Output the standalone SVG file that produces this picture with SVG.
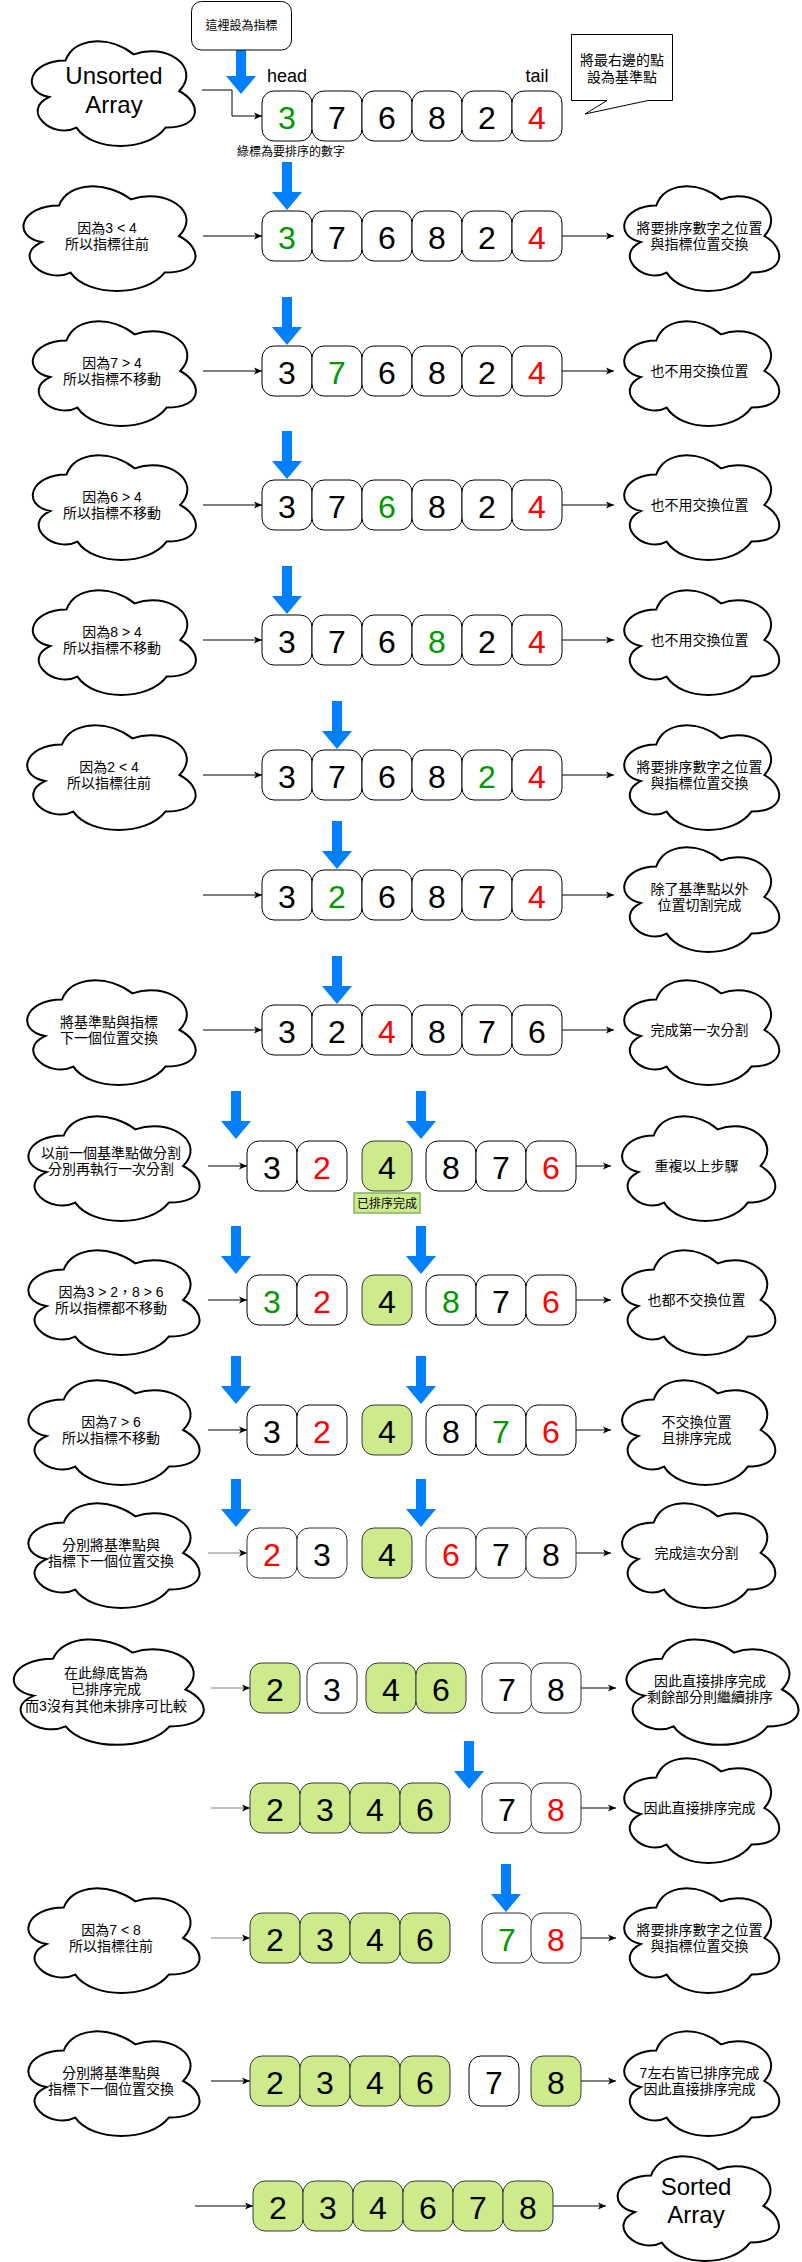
<svg xmlns="http://www.w3.org/2000/svg" xmlns:xlink="http://www.w3.org/1999/xlink" width="802" height="2262" viewBox="0 0 802 2262">
<style>
.bg{fill:#fff}
.box{fill:#fff;stroke:#000;stroke-width:1}
.box.gy{stroke:#333}
.gbox{fill:#cdeb8b;stroke:#36393d;stroke-width:1}
.d{font-family:"Liberation Sans",Arial,sans-serif;font-size:32px;text-anchor:middle;fill:#000}
.g{fill:#009900}
.r{fill:#ff0000}
.t{font-family:"Liberation Sans","Noto Sans CJK TC",sans-serif;font-size:14px;text-anchor:middle;fill:#000}
.s{font-size:12px}
.big{font-family:"Liberation Sans",Arial,sans-serif;font-size:24px;text-anchor:middle;fill:#000}
.hd{font-family:"Liberation Sans",Arial,sans-serif;font-size:18px;text-anchor:middle;fill:#000}
.cloud{fill:#fff;stroke:#000;stroke-width:2}
.conn{fill:none;stroke:#000;stroke-width:1;marker-end:url(#ah)}
.conn.gy{stroke:#808080;marker-end:url(#ahg)}
.blue{fill:#007fff}
</style>
<defs>
<path id="cloudp" d="M25,25 C5,25 0,50 16,55 C0,66 18,90 31,80 C40,100 70,100 80,80 C100,80 100,60 87.5,50 C100,30 80,10 62.5,20 C50,5 30,5 25,25 Z" vector-effect="non-scaling-stroke"/>
<path id="barrow" d="M-5,0 H5 V30 H15 L0,48 L-15,30 H-5 Z"/>
<marker id="ah" viewBox="0 0 10 10" refX="9" refY="5" markerWidth="10" markerHeight="10" markerUnits="userSpaceOnUse" orient="auto">
<path d="M1,1.5 L9,5 L1,8.5 L3,5 Z" fill="#000"/>
</marker>
<marker id="ahg" viewBox="0 0 10 10" refX="9" refY="5" markerWidth="10" markerHeight="10" markerUnits="userSpaceOnUse" orient="auto">
<path d="M1,1.5 L9,5 L1,8.5 L3,5 Z" fill="#000"/>
</marker>
</defs>
<rect class="bg" x="0" y="0" width="802" height="2262"/>

<g id="connectors">
<path class="conn" d="M202,90 H232 V116 H262"/>
<path class="conn" d="M203,236 H262"/><path class="conn" d="M562,236 H614"/>
<path class="conn" d="M203,371 H262"/><path class="conn" d="M562,371 H614"/>
<path class="conn" d="M203,505 H262"/><path class="conn" d="M562,505 H614"/>
<path class="conn" d="M203,640 H262"/><path class="conn" d="M562,640 H614"/>
<path class="conn" d="M203,775 H262"/><path class="conn" d="M562,775 H614"/>
<path class="conn" d="M203,895 H262"/><path class="conn" d="M562,895 H614"/>
<path class="conn" d="M203,1030 H262"/><path class="conn" d="M562,1030 H614"/>
<path class="conn" d="M208,1166 H247"/><path class="conn" d="M576,1166 H611"/>
<path class="conn" d="M208,1300 H247"/><path class="conn" d="M576,1300 H611"/>
<path class="conn" d="M208,1430 H247"/><path class="conn" d="M576,1430 H611"/>
<path class="conn gy" d="M208,1553 H247"/><path class="conn" d="M576,1553 H611"/>
<path class="conn gy" d="M211,1688 H250"/><path class="conn" d="M581,1688 H616"/>
<path class="conn gy" d="M211,1808 H250"/><path class="conn" d="M581,1808 H616"/>
<path class="conn gy" d="M211,1938 H250"/><path class="conn" d="M581,1938 H616"/>
<path class="conn" d="M211,2081 H250"/><path class="conn" d="M581,2081 H616"/>
<path class="conn" d="M195,2206 H253"/><path class="conn" d="M553,2206 H606"/>
</g>

<g id="pointers">
<path class="blue" d="M236,50 H246 V76 H256 L241,94 L226,76 H236 Z"/>
<use href="#barrow" class="blue" transform="translate(287,162)"/>
<use href="#barrow" class="blue" transform="translate(287,297)"/>
<use href="#barrow" class="blue" transform="translate(287,431)"/>
<use href="#barrow" class="blue" transform="translate(287,566)"/>
<use href="#barrow" class="blue" transform="translate(337,701)"/>
<use href="#barrow" class="blue" transform="translate(337,821)"/>
<use href="#barrow" class="blue" transform="translate(337,956)"/>
<use href="#barrow" class="blue" transform="translate(236,1091)"/>
<use href="#barrow" class="blue" transform="translate(421,1091)"/>
<use href="#barrow" class="blue" transform="translate(236,1226)"/>
<use href="#barrow" class="blue" transform="translate(421,1226)"/>
<use href="#barrow" class="blue" transform="translate(236,1356)"/>
<use href="#barrow" class="blue" transform="translate(421,1356)"/>
<use href="#barrow" class="blue" transform="translate(236,1479)"/>
<use href="#barrow" class="blue" transform="translate(421,1479)"/>
<use href="#barrow" class="blue" transform="translate(469,1741)"/>
<use href="#barrow" class="blue" transform="translate(506,1864)"/>
</g>

<g id="pointer-note">
<rect class="box" x="191.5" y="1.5" width="100" height="48.5" rx="10"/>
<text class="t s" x="241.5" y="30">這裡設為指標</text>
</g>

<g id="pivot-note">
<path class="box" d="M571.5,34.5 H672.5 V100.5 H648 L585,114 L607,100.5 H571.5 Z"/>
<text class="t" x="622" y="65">將最右邊的點</text>
<text class="t" x="622" y="82">設為基準點</text>
</g>

<g id="unsorted">
<use href="#cloudp" class="cloud" transform="translate(20,30) scale(1.82,1.22)"/>
<text class="big" x="114" y="84">Unsorted</text>
<text class="big" x="114" y="113">Array</text>
</g>
<text class="hd" x="287" y="82">head</text>
<text class="hd" x="537" y="82">tail</text>
<text class="t s g" x="291" y="156">綠標為要排序的數字</text>

<g id="row1">
<rect class="box" x="262" y="91" width="50" height="50" rx="12"/><text class="d g" x="287" y="129">3</text>
<rect class="box" x="312" y="91" width="50" height="50" rx="12"/><text class="d" x="337" y="129">7</text>
<rect class="box" x="362" y="91" width="50" height="50" rx="12"/><text class="d" x="387" y="129">6</text>
<rect class="box" x="412" y="91" width="50" height="50" rx="12"/><text class="d" x="437" y="129">8</text>
<rect class="box" x="462" y="91" width="50" height="50" rx="12"/><text class="d" x="487" y="129">2</text>
<rect class="box" x="512" y="91" width="50" height="50" rx="12"/><text class="d r" x="537" y="129">4</text>
</g>

<g id="row2">
<use href="#cloudp" class="cloud" transform="translate(11,175) scale(1.92,1.22)"/>
<text class="t" x="107" y="233">因為3 &lt; 4</text><text class="t" x="107" y="249">所以指標往前</text>
<rect class="box" x="262" y="211" width="50" height="50" rx="12"/><text class="d g" x="287" y="249">3</text>
<rect class="box" x="312" y="211" width="50" height="50" rx="12"/><text class="d" x="337" y="249">7</text>
<rect class="box" x="362" y="211" width="50" height="50" rx="12"/><text class="d" x="387" y="249">6</text>
<rect class="box" x="412" y="211" width="50" height="50" rx="12"/><text class="d" x="437" y="249">8</text>
<rect class="box" x="462" y="211" width="50" height="50" rx="12"/><text class="d" x="487" y="249">2</text>
<rect class="box" x="512" y="211" width="50" height="50" rx="12"/><text class="d r" x="537" y="249">4</text>
<use href="#cloudp" class="cloud" transform="translate(613,175) scale(1.73,1.22)"/>
<text class="t" x="699.5" y="233">將要排序數字之位置</text><text class="t" x="699.5" y="249">與指標位置交換</text>
</g>

<g id="row3">
<use href="#cloudp" class="cloud" transform="translate(21,310) scale(1.82,1.22)"/>
<text class="t" x="112" y="368">因為7 &gt; 4</text><text class="t" x="112" y="384">所以指標不移動</text>
<rect class="box" x="262" y="346" width="50" height="50" rx="12"/><text class="d" x="287" y="384">3</text>
<rect class="box" x="312" y="346" width="50" height="50" rx="12"/><text class="d g" x="337" y="384">7</text>
<rect class="box" x="362" y="346" width="50" height="50" rx="12"/><text class="d" x="387" y="384">6</text>
<rect class="box" x="412" y="346" width="50" height="50" rx="12"/><text class="d" x="437" y="384">8</text>
<rect class="box" x="462" y="346" width="50" height="50" rx="12"/><text class="d" x="487" y="384">2</text>
<rect class="box" x="512" y="346" width="50" height="50" rx="12"/><text class="d r" x="537" y="384">4</text>
<use href="#cloudp" class="cloud" transform="translate(613,310) scale(1.73,1.22)"/>
<text class="t" x="699.5" y="376">也不用交換位置</text>
</g>

<g id="row4">
<use href="#cloudp" class="cloud" transform="translate(21,444) scale(1.82,1.22)"/>
<text class="t" x="112" y="502">因為6 &gt; 4</text><text class="t" x="112" y="518">所以指標不移動</text>
<rect class="box" x="262" y="480" width="50" height="50" rx="12"/><text class="d" x="287" y="518">3</text>
<rect class="box" x="312" y="480" width="50" height="50" rx="12"/><text class="d" x="337" y="518">7</text>
<rect class="box" x="362" y="480" width="50" height="50" rx="12"/><text class="d g" x="387" y="518">6</text>
<rect class="box" x="412" y="480" width="50" height="50" rx="12"/><text class="d" x="437" y="518">8</text>
<rect class="box" x="462" y="480" width="50" height="50" rx="12"/><text class="d" x="487" y="518">2</text>
<rect class="box" x="512" y="480" width="50" height="50" rx="12"/><text class="d r" x="537" y="518">4</text>
<use href="#cloudp" class="cloud" transform="translate(613,444) scale(1.73,1.22)"/>
<text class="t" x="699.5" y="510">也不用交換位置</text>
</g>

<g id="row5">
<use href="#cloudp" class="cloud" transform="translate(21,579) scale(1.82,1.22)"/>
<text class="t" x="112" y="637">因為8 &gt; 4</text><text class="t" x="112" y="653">所以指標不移動</text>
<rect class="box" x="262" y="615" width="50" height="50" rx="12"/><text class="d" x="287" y="653">3</text>
<rect class="box" x="312" y="615" width="50" height="50" rx="12"/><text class="d" x="337" y="653">7</text>
<rect class="box" x="362" y="615" width="50" height="50" rx="12"/><text class="d" x="387" y="653">6</text>
<rect class="box" x="412" y="615" width="50" height="50" rx="12"/><text class="d g" x="437" y="653">8</text>
<rect class="box" x="462" y="615" width="50" height="50" rx="12"/><text class="d" x="487" y="653">2</text>
<rect class="box" x="512" y="615" width="50" height="50" rx="12"/><text class="d r" x="537" y="653">4</text>
<use href="#cloudp" class="cloud" transform="translate(613,579) scale(1.73,1.22)"/>
<text class="t" x="699.5" y="645">也不用交換位置</text>
</g>

<g id="row6">
<use href="#cloudp" class="cloud" transform="translate(15,714) scale(1.88,1.22)"/>
<text class="t" x="109" y="772">因為2 &lt; 4</text><text class="t" x="109" y="788">所以指標往前</text>
<rect class="box" x="262" y="750" width="50" height="50" rx="12"/><text class="d" x="287" y="788">3</text>
<rect class="box" x="312" y="750" width="50" height="50" rx="12"/><text class="d" x="337" y="788">7</text>
<rect class="box" x="362" y="750" width="50" height="50" rx="12"/><text class="d" x="387" y="788">6</text>
<rect class="box" x="412" y="750" width="50" height="50" rx="12"/><text class="d" x="437" y="788">8</text>
<rect class="box" x="462" y="750" width="50" height="50" rx="12"/><text class="d g" x="487" y="788">2</text>
<rect class="box" x="512" y="750" width="50" height="50" rx="12"/><text class="d r" x="537" y="788">4</text>
<use href="#cloudp" class="cloud" transform="translate(613,714) scale(1.73,1.22)"/>
<text class="t" x="699.5" y="772">將要排序數字之位置</text><text class="t" x="699.5" y="788">與指標位置交換</text>
</g>

<g id="row7">
<rect class="box" x="262" y="870" width="50" height="50" rx="12"/><text class="d" x="287" y="908">3</text>
<rect class="box" x="312" y="870" width="50" height="50" rx="12"/><text class="d g" x="337" y="908">2</text>
<rect class="box" x="362" y="870" width="50" height="50" rx="12"/><text class="d" x="387" y="908">6</text>
<rect class="box" x="412" y="870" width="50" height="50" rx="12"/><text class="d" x="437" y="908">8</text>
<rect class="box" x="462" y="870" width="50" height="50" rx="12"/><text class="d" x="487" y="908">7</text>
<rect class="box" x="512" y="870" width="50" height="50" rx="12"/><text class="d r" x="537" y="908">4</text>
<use href="#cloudp" class="cloud" transform="translate(613,836) scale(1.73,1.22)"/>
<text class="t" x="699.5" y="894">除了基準點以外</text><text class="t" x="699.5" y="910">位置切割完成</text>
</g>

<g id="row8">
<use href="#cloudp" class="cloud" transform="translate(15,969) scale(1.88,1.22)"/>
<text class="t" x="109" y="1027">將基準點與指標</text><text class="t" x="109" y="1043">下一個位置交換</text>
<rect class="box" x="262" y="1005" width="50" height="50" rx="12"/><text class="d" x="287" y="1043">3</text>
<rect class="box" x="312" y="1005" width="50" height="50" rx="12"/><text class="d" x="337" y="1043">2</text>
<rect class="box" x="362" y="1005" width="50" height="50" rx="12"/><text class="d r" x="387" y="1043">4</text>
<rect class="box" x="412" y="1005" width="50" height="50" rx="12"/><text class="d" x="437" y="1043">8</text>
<rect class="box" x="462" y="1005" width="50" height="50" rx="12"/><text class="d" x="487" y="1043">7</text>
<rect class="box" x="512" y="1005" width="50" height="50" rx="12"/><text class="d" x="537" y="1043">6</text>
<use href="#cloudp" class="cloud" transform="translate(613,969) scale(1.73,1.22)"/>
<text class="t" x="699.5" y="1035">完成第一次分割</text>
</g>

<g id="row9">
<use href="#cloudp" class="cloud" transform="translate(16,1105) scale(1.91,1.22)"/>
<text class="t" x="111" y="1158">以前一個基準點做分割</text><text class="t" x="111" y="1174">分別再執行一次分割</text>
<rect class="box" x="247" y="1141" width="50" height="50" rx="12"/><text class="d" x="272" y="1179">3</text>
<rect class="box" x="297" y="1141" width="50" height="50" rx="12"/><text class="d r" x="322" y="1179">2</text>
<rect class="gbox" x="362" y="1141" width="50" height="50" rx="12"/><text class="d" x="387" y="1179">4</text>
<rect class="box" x="426" y="1141" width="50" height="50" rx="12"/><text class="d" x="451" y="1179">8</text>
<rect class="box" x="476" y="1141" width="50" height="50" rx="12"/><text class="d" x="501" y="1179">7</text>
<rect class="box" x="526" y="1141" width="50" height="50" rx="12"/><text class="d r" x="551" y="1179">6</text>
<use href="#cloudp" class="cloud" transform="translate(611,1105) scale(1.71,1.22)"/>
<text class="t" x="696.5" y="1171">重複以上步驟</text>
</g>
<g id="sorted-label">
<rect x="354" y="1193" width="66" height="20" fill="#cdeb8b" stroke="#82b366" stroke-width="1.5"/>
<text class="t s" x="387" y="1208">已排序完成</text>
</g>

<g id="row10">
<use href="#cloudp" class="cloud" transform="translate(16,1239) scale(1.91,1.22)"/>
<text class="t" x="111" y="1297">因為3 &gt; 2，8 &gt; 6</text><text class="t" x="111" y="1313">所以指標都不移動</text>
<rect class="box" x="247" y="1275" width="50" height="50" rx="12"/><text class="d g" x="272" y="1313">3</text>
<rect class="box" x="297" y="1275" width="50" height="50" rx="12"/><text class="d r" x="322" y="1313">2</text>
<rect class="gbox" x="362" y="1275" width="50" height="50" rx="12"/><text class="d" x="387" y="1313">4</text>
<rect class="box" x="426" y="1275" width="50" height="50" rx="12"/><text class="d g" x="451" y="1313">8</text>
<rect class="box" x="476" y="1275" width="50" height="50" rx="12"/><text class="d" x="501" y="1313">7</text>
<rect class="box" x="526" y="1275" width="50" height="50" rx="12"/><text class="d r" x="551" y="1313">6</text>
<use href="#cloudp" class="cloud" transform="translate(611,1239) scale(1.71,1.22)"/>
<text class="t" x="696.5" y="1305">也都不交換位置</text>
</g>

<g id="row11">
<use href="#cloudp" class="cloud" transform="translate(16,1369) scale(1.91,1.22)"/>
<text class="t" x="111" y="1427">因為7 &gt; 6</text><text class="t" x="111" y="1443">所以指標不移動</text>
<rect class="box" x="247" y="1405" width="50" height="50" rx="12"/><text class="d" x="272" y="1443">3</text>
<rect class="box" x="297" y="1405" width="50" height="50" rx="12"/><text class="d r" x="322" y="1443">2</text>
<rect class="gbox" x="362" y="1405" width="50" height="50" rx="12"/><text class="d" x="387" y="1443">4</text>
<rect class="box" x="426" y="1405" width="50" height="50" rx="12"/><text class="d" x="451" y="1443">8</text>
<rect class="box" x="476" y="1405" width="50" height="50" rx="12"/><text class="d g" x="501" y="1443">7</text>
<rect class="box" x="526" y="1405" width="50" height="50" rx="12"/><text class="d r" x="551" y="1443">6</text>
<use href="#cloudp" class="cloud" transform="translate(611,1369) scale(1.71,1.22)"/>
<text class="t" x="696.5" y="1427">不交換位置</text><text class="t" x="696.5" y="1443">且排序完成</text>
</g>

<g id="row12">
<use href="#cloudp" class="cloud" transform="translate(16,1492) scale(1.91,1.22)"/>
<text class="t" x="111" y="1550">分別將基準點與</text><text class="t" x="111" y="1566">指標下一個位置交換</text>
<rect class="box gy" x="247" y="1528" width="50" height="50" rx="12"/><text class="d r" x="272" y="1566">2</text>
<rect class="box gy" x="297" y="1528" width="50" height="50" rx="12"/><text class="d" x="322" y="1566">3</text>
<rect class="gbox" x="362" y="1528" width="50" height="50" rx="12"/><text class="d" x="387" y="1566">4</text>
<rect class="box gy" x="426" y="1528" width="50" height="50" rx="12"/><text class="d r" x="451" y="1566">6</text>
<rect class="box gy" x="476" y="1528" width="50" height="50" rx="12"/><text class="d" x="501" y="1566">7</text>
<rect class="box gy" x="526" y="1528" width="50" height="50" rx="12"/><text class="d" x="551" y="1566">8</text>
<use href="#cloudp" class="cloud" transform="translate(611,1492) scale(1.71,1.22)"/>
<text class="t" x="696.5" y="1558">完成這次分割</text>
</g>

<g id="row13">
<use href="#cloudp" class="cloud" transform="translate(0,1628) scale(2.12,1.23)"/>
<text class="t" x="106" y="1678">在此綠底皆為</text><text class="t" x="106" y="1694">已排序完成</text><text class="t" x="106" y="1711">而3沒有其他未排序可比較</text>
<rect class="gbox" x="250" y="1663" width="50" height="50" rx="12"/><text class="d" x="275" y="1701">2</text>
<rect class="box gy" x="307" y="1663" width="50" height="50" rx="12"/><text class="d" x="332" y="1701">3</text>
<rect class="gbox" x="366" y="1663" width="50" height="50" rx="12"/><text class="d" x="391" y="1701">4</text>
<rect class="gbox" x="416" y="1663" width="50" height="50" rx="12"/><text class="d" x="441" y="1701">6</text>
<rect class="box gy" x="482" y="1663" width="50" height="50" rx="12"/><text class="d" x="507" y="1701">7</text>
<rect class="box gy" x="531" y="1663" width="50" height="50" rx="12"/><text class="d" x="556" y="1701">8</text>
<use href="#cloudp" class="cloud" transform="translate(614,1628) scale(1.92,1.23)"/>
<text class="t" x="710" y="1686">因此直接排序完成</text><text class="t" x="710" y="1702">剩餘部分則繼續排序</text>
</g>

<g id="row14">
<rect class="gbox" x="250" y="1783" width="50" height="50" rx="12"/><text class="d" x="275" y="1821">2</text>
<rect class="gbox" x="300" y="1783" width="50" height="50" rx="12"/><text class="d" x="325" y="1821">3</text>
<rect class="gbox" x="350" y="1783" width="50" height="50" rx="12"/><text class="d" x="375" y="1821">4</text>
<rect class="gbox" x="400" y="1783" width="50" height="50" rx="12"/><text class="d" x="425" y="1821">6</text>
<rect class="box gy" x="482" y="1783" width="50" height="50" rx="12"/><text class="d" x="507" y="1821">7</text>
<rect class="box gy" x="531" y="1783" width="50" height="50" rx="12"/><text class="d r" x="556" y="1821">8</text>
<use href="#cloudp" class="cloud" transform="translate(613,1747) scale(1.73,1.22)"/>
<text class="t" x="699.5" y="1813">因此直接排序完成</text>
</g>

<g id="row15">
<use href="#cloudp" class="cloud" transform="translate(16,1877) scale(1.91,1.22)"/>
<text class="t" x="111" y="1935">因為7 &lt; 8</text><text class="t" x="111" y="1951">所以指標往前</text>
<rect class="gbox" x="250" y="1913" width="50" height="50" rx="12"/><text class="d" x="275" y="1951">2</text>
<rect class="gbox" x="300" y="1913" width="50" height="50" rx="12"/><text class="d" x="325" y="1951">3</text>
<rect class="gbox" x="350" y="1913" width="50" height="50" rx="12"/><text class="d" x="375" y="1951">4</text>
<rect class="gbox" x="400" y="1913" width="50" height="50" rx="12"/><text class="d" x="425" y="1951">6</text>
<rect class="box gy" x="482" y="1913" width="50" height="50" rx="12"/><text class="d g" x="507" y="1951">7</text>
<rect class="box gy" x="531" y="1913" width="50" height="50" rx="12"/><text class="d r" x="556" y="1951">8</text>
<use href="#cloudp" class="cloud" transform="translate(613,1877) scale(1.73,1.22)"/>
<text class="t" x="699.5" y="1935">將要排序數字之位置</text><text class="t" x="699.5" y="1951">與指標位置交換</text>
</g>

<g id="row16">
<use href="#cloudp" class="cloud" transform="translate(16,2020) scale(1.91,1.22)"/>
<text class="t" x="111" y="2078">分別將基準點與</text><text class="t" x="111" y="2094">指標下一個位置交換</text>
<rect class="gbox" x="250" y="2056" width="50" height="50" rx="12"/><text class="d" x="275" y="2094">2</text>
<rect class="gbox" x="300" y="2056" width="50" height="50" rx="12"/><text class="d" x="325" y="2094">3</text>
<rect class="gbox" x="350" y="2056" width="50" height="50" rx="12"/><text class="d" x="375" y="2094">4</text>
<rect class="gbox" x="400" y="2056" width="50" height="50" rx="12"/><text class="d" x="425" y="2094">6</text>
<rect class="box" x="469" y="2056" width="50" height="50" rx="12"/><text class="d" x="494" y="2094">7</text>
<rect class="gbox" x="531" y="2056" width="50" height="50" rx="12"/><text class="d" x="556" y="2094">8</text>
<use href="#cloudp" class="cloud" transform="translate(613,2020) scale(1.73,1.22)"/>
<text class="t" x="699.5" y="2078">7左右皆已排序完成</text><text class="t" x="699.5" y="2094">因此直接排序完成</text>
</g>

<g id="row17">
<rect class="gbox" x="253" y="2181" width="50" height="50" rx="12"/><text class="d" x="278" y="2219">2</text>
<rect class="gbox" x="303" y="2181" width="50" height="50" rx="12"/><text class="d" x="328" y="2219">3</text>
<rect class="gbox" x="353" y="2181" width="50" height="50" rx="12"/><text class="d" x="378" y="2219">4</text>
<rect class="gbox" x="403" y="2181" width="50" height="50" rx="12"/><text class="d" x="428" y="2219">6</text>
<rect class="gbox" x="453" y="2181" width="50" height="50" rx="12"/><text class="d" x="478" y="2219">7</text>
<rect class="gbox" x="503" y="2181" width="50" height="50" rx="12"/><text class="d" x="528" y="2219">8</text>
</g>
<g id="sorted">
<use href="#cloudp" class="cloud" transform="translate(606,2145) scale(1.80,1.22)"/>
<text class="big" x="696" y="2195">Sorted</text>
<text class="big" x="696" y="2223">Array</text>
</g>
</svg>
